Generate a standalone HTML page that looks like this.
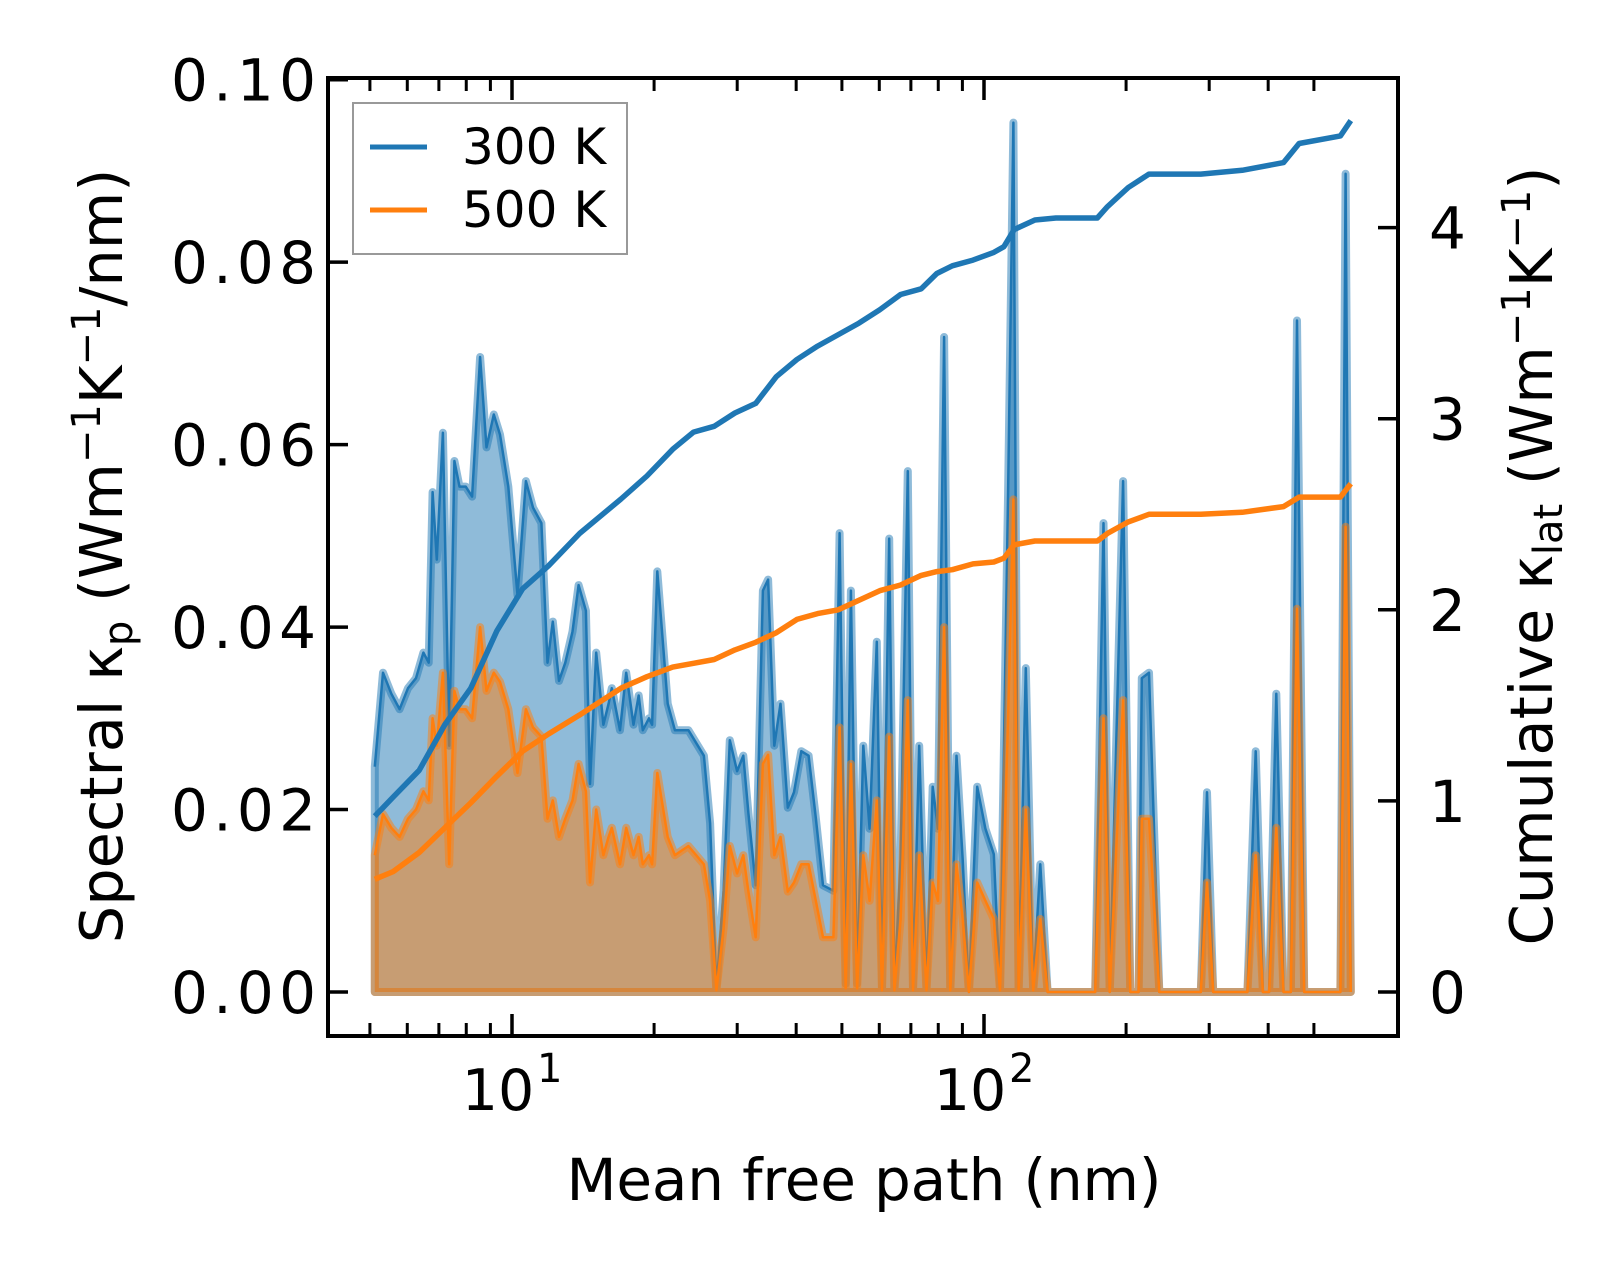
<!DOCTYPE html>
<html><head><meta charset="utf-8"><style>
html,body{margin:0;padding:0;background:#fff;}
svg text{font-family:"DejaVu Sans","Liberation Sans",sans-serif;fill:#000;}
</style></head><body>
<svg id="chart" width="1623" height="1273" viewBox="0 0 1623 1273" xmlns="http://www.w3.org/2000/svg">
<rect x="0" y="0" width="1623" height="1273" fill="#fff"/>
<g id="plot"></g>
<g id="axes"></g>
<g id="legend">
  <rect x="353" y="103" width="274" height="151" fill="#fff" fill-opacity="0.8" stroke="#999" stroke-width="2"/>
  <line x1="370" y1="147" x2="427" y2="147" stroke="#1f77b4" stroke-width="5"/>
  <text x="462" y="164" font-size="50">300 K</text>
  <line x1="370" y1="210" x2="427" y2="210" stroke="#ff7f0e" stroke-width="5"/>
  <text x="462" y="227" font-size="50">500 K</text>
</g>
<text x="864" y="1200" font-size="58" text-anchor="middle" textLength="595">Mean free path (nm)</text>
<text transform="translate(122,556) rotate(-90)" font-size="59" text-anchor="middle">Spectral κ<tspan font-size="40" dy="10">p</tspan><tspan dy="-10"> (Wm</tspan><tspan font-size="40" dy="-22">−1</tspan><tspan dy="22">K</tspan><tspan font-size="40" dy="-22">−1</tspan><tspan dy="22">/nm)</tspan></text>
<text transform="translate(1552,556) rotate(-90)" font-size="59" text-anchor="middle">Cumulative κ<tspan font-size="40" dy="10">lat</tspan><tspan dy="-10"> (Wm</tspan><tspan font-size="40" dy="-22">−1</tspan><tspan dy="22">K</tspan><tspan font-size="40" dy="-22">−1</tspan><tspan dy="22">)</tspan></text>
</svg>
<script>
const mfp = [5.12,5.33,5.55,5.78,6.02,6.26,6.49,6.66,6.79,6.93,7.14,7.36,7.55,7.74,7.98,8.23,8.56,8.83,9.15,9.43,9.82,10.27,10.70,11.08,11.54,11.89,12.20,12.58,12.97,13.43,13.84,14.34,14.63,15.08,15.62,16.02,16.27,16.94,17.46,18.09,18.55,18.93,19.51,19.81,20.32,21.37,22.14,23.64,25.50,26.29,27.10,28.07,28.93,29.98,30.90,31.69,32.83,34.01,34.88,35.95,37.06,38.39,39.58,41.01,42.49,44.02,45.60,47.96,49.43,50.93,52.24,53.85,55.51,57.22,59.28,60.80,62.98,64.59,66.58,68.97,70.73,72.91,75.53,77.86,79.85,82.31,84.84,87.45,90.14,92.90,96.74,100.7,104.9,108.1,112.5,115.4,118.4,122.6,127.1,131.6,136.4,142.0,172.0,179.1,184.6,197.1,204.2,212.6,215.9,223.6,235.2,287.9,296.8,305.9,361.4,376.3,389.8,401.8,416.2,431.1,446.6,460.4,476.9,569.1,583.6,598.5];
const spec300 = [24.7,35.0,32.7,31.0,33.3,34.4,37.2,36.1,54.8,47.4,61.3,27.0,58.2,55.4,55.4,54.3,69.6,59.7,63.3,61.1,55.4,43.5,56.0,53.1,51.4,36.1,40.6,34.1,36.1,39.5,44.6,41.8,22.8,37.2,29.3,31.6,33.3,28.7,35.0,29.3,32.5,28.7,30.0,29.3,46.1,31.6,28.7,28.7,25.9,18.5,0.3,11.1,27.6,24.2,25.9,19.6,11.7,44.0,45.2,27.0,31.6,20.2,21.9,26.4,25.9,19.1,11.7,11.1,50.3,0.9,44.0,0.9,27.0,17.9,38.4,0.3,49.7,0.3,14.5,57.1,0.3,27.0,0.3,22.5,17.9,71.8,0.3,25.9,14.5,0,22.5,17.9,15.1,0.3,54.8,95.3,0.3,35.5,0.3,14.0,0,0,0,51.4,0,56.0,0,0,34.4,35.0,0,0,21.9,0,0,26.4,0,0,32.7,0,0,73.6,0,0,89.7,0];
const spec500 = [15,19.5,18,17,19,20,22,21,30,27,35,14,33,31,31,30,40,33,35,34,31,24,31,29,28,19,21,17,19,21,25,22,12,20,15,17,18,14,18,15,17,14,15,14,24,17,15,16,14,10,0.2,7,16,13,15,11,6,25,26,15,17,11,12,14,14,10,6,6,29,0.4,25,0.4,15,10,21,0.2,28,0.2,8,32,0.2,15,0.2,12,10,40,0.2,14,8,0,12,10,8,0.2,30,54,0.2,20,0.2,8,0,0,0,30,0,32,0,0,19,19,0,0,12,0,0,15,0,0,18,0,0,42,0,0,51,0];
const cumMfp = [5.12,5.60,6.36,7.21,8.18,9.29,10.53,11.95,13.91,17.02,19.31,21.90,24.24,26.81,29.66,32.83,36.30,40.15,44.41,49.13,54.35,60.12,66.58,73.63,79.43,85.69,94.78,104.9,110.2,115.9,128.2,142.0,173.8,182.7,192.2,202.2,223.6,287.9,352.4,431.1,465.1,569.1,598.5];
const cum300 = [0.92,1.02,1.16,1.40,1.59,1.89,2.11,2.23,2.40,2.58,2.70,2.84,2.93,2.96,3.03,3.08,3.22,3.31,3.38,3.44,3.50,3.57,3.65,3.68,3.76,3.80,3.83,3.87,3.90,3.99,4.04,4.05,4.05,4.11,4.16,4.21,4.28,4.28,4.30,4.34,4.44,4.48,4.56];
const cum500 = [0.59,0.63,0.73,0.86,0.99,1.13,1.26,1.35,1.45,1.59,1.65,1.70,1.72,1.74,1.79,1.83,1.88,1.95,1.98,2.00,2.05,2.10,2.13,2.18,2.20,2.21,2.24,2.25,2.27,2.34,2.36,2.36,2.36,2.40,2.43,2.46,2.50,2.50,2.51,2.54,2.59,2.59,2.66];
const leftTicks = [0,0.02,0.04,0.06,0.08,0.10];
const leftTickLabels = ["0.00","0.02","0.04","0.06","0.08","0.10"];
const rightTicks = [0,1,2,3,4];
const xMajor = [10,100];
const xMajorExp = ["1","2"];
const xMinor = [5,6,7,8,9,20,30,40,50,60,70,80,90,200,300,400,500];

const NS = "http://www.w3.org/2000/svg";
const L=328,R=1398,T=78,B=1036;
const X = m => 512 + (Math.log10(m)-1)*472;
const Y = v => 992 - v*9123;
const YR = c => 992 - c*191.1;
function mk(tag, attrs, parent){const e=document.createElementNS(NS,tag);for(const k in attrs)e.setAttribute(k,attrs[k]);parent.appendChild(e);return e;}
const plot=document.getElementById('plot'), axes=document.getElementById('axes');

function spectral(vals, color, name){
  const pts = mfp.map((m,i)=>X(m).toFixed(1)+','+Y(vals[i]/1000).toFixed(1));
  const poly = mk('polygon',{points: X(mfp[0]).toFixed(1)+','+Y(0)+' '+pts.join(' ')+' '+X(mfp[mfp.length-1]).toFixed(1)+','+Y(0), fill:color,'fill-opacity':0.5,stroke:color,'stroke-opacity':0.5,'stroke-width':8,'stroke-linejoin':'round'},plot);
  
  
  const ln = mk('polyline',{points:pts.join(' '),fill:'none',stroke:color,'stroke-width':2.5,'stroke-linejoin':'round'},plot);
  
  
}
spectral(spec300,'#1f77b4','spectral-300k');
spectral(spec500,'#ff7f0e','spectral-500k');
function cum(vals,color,name){
  const pts = cumMfp.map((m,i)=>X(m).toFixed(1)+','+YR(vals[i]).toFixed(1));
  const ln = mk('polyline',{points:pts.join(' '),fill:'none',stroke:color,'stroke-width':5.5,'stroke-linejoin':'round'},plot);
  
  
}
cum(cum300,'#1f77b4','cumulative-300k-line');
cum(cum500,'#ff7f0e','cumulative-500k-line');

const fr = mk('rect',{x:L,y:T,width:R-L,height:B-T,fill:'none',stroke:'#000','stroke-width':4},axes);


leftTicks.forEach((v,i)=>{
  const y=Y(v);
  const t=mk('line',{x1:L,y1:y,x2:L+20,y2:y,stroke:'#000','stroke-width':3.5},axes);
  
  
  const tx=mk('text',{x:316,y:y+21,'font-size':58,'text-anchor':'end',textLength:145},axes);
  tx.textContent=leftTickLabels[i];
  
  
});
rightTicks.forEach(v=>{
  const y=YR(v);
  const t=mk('line',{x1:R-20,y1:y,x2:R,y2:y,stroke:'#000','stroke-width':3.5},axes);
  
  
  const tx=mk('text',{x:1429,y:y+21,'font-size':58},axes);
  tx.textContent=String(v);
  
  
});
xMajor.forEach((m,i)=>{
  const x=X(m);
  [[B,B-22],[T,T+22]].forEach(p=>{
    const t=mk('line',{x1:x,y1:p[0],x2:x,y2:p[1],stroke:'#000','stroke-width':3.5},axes);
    
    
  });
  const tx=mk('text',{x:x-14,y:1110,'font-size':57,'text-anchor':'middle'},axes);
  tx.textContent='10';
  
  
  const sp=mk('text',{x:x+25,y:1082,'font-size':40},axes);
  sp.textContent=xMajorExp[i];
  
  
});
xMinor.forEach(m=>{
  const x=X(m);
  [[B,B-13],[T,T+13]].forEach(p=>{
    const t=mk('line',{x1:x,y1:p[0],x2:x,y2:p[1],stroke:'#000','stroke-width':3},axes);
    
    
  });
});
</script>
</body></html>
